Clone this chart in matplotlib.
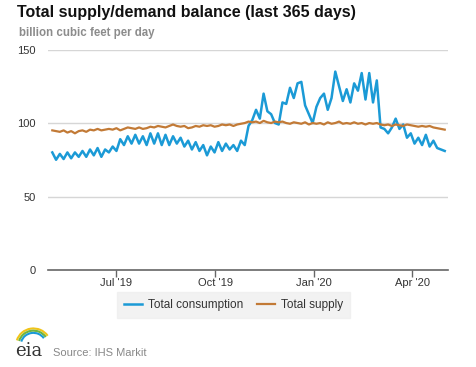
#use pandas and matplotlib packages
import pandas as pd
import matplotlib.pyplot as plt
from matplotlib.patches import Arc

plt.rcParams['font.family'] = ['Liberation Sans', 'DejaVu Sans']

#dates every 3.5 days over the last 365 days
dates = pd.date_range('2019-05-03', periods=105, freq='84h')

#total consumption, bcf/d
consumption = [80, 75, 79, 75.5, 80, 76, 80, 77, 81, 77,
               82, 78, 83, 77, 82, 80, 84, 81, 89, 85,
               91, 86, 92, 86, 91, 85, 93, 86, 93, 85,
               92, 85, 91, 86, 90, 84, 88, 82, 87, 81,
               85, 78, 84, 80, 87, 81, 86, 82, 85, 81,
               88, 85, 98, 102, 109, 103, 120, 108, 106, 100,
               99, 114, 113, 124, 117, 127, 128, 112, 106, 100,
               111, 117, 120, 109, 117, 135, 125, 115, 123, 114,
               127, 122, 134, 116, 134, 114, 129, 97, 96, 93,
               97, 103, 96, 99, 90, 93, 86, 90, 85, 92,
               84, 88, 83, 82, 81]

#total supply, bcf/d
supply = [95, 94.5, 94, 95, 93.5, 94.5, 93, 94.5, 95, 94,
          95.5, 95, 96, 95, 95.5, 96, 95.5, 96.5, 95, 96,
          97, 96.5, 96, 97, 96, 96.5, 97.5, 97, 98, 97.5,
          97, 98, 99, 98, 97.5, 98, 96.5, 97, 98, 97.5,
          98.5, 98, 98.5, 97.5, 98, 99, 98.5, 99, 98, 99,
          99.5, 100, 101, 100.5, 101, 100, 101.5, 100.5, 100, 101,
          100.5, 101, 100, 99.5, 100.5, 100, 99.5, 100.5, 99, 100,
          99.5, 100, 99, 100.5, 99.5, 100, 101, 99.5, 100, 99.5,
          100.5, 99.5, 100, 99, 100, 99.5, 100, 99, 98.5, 99,
          98, 99, 98.5, 98, 99, 98.5, 98, 97.5, 98, 97.5,
          98, 97, 96.5, 96, 95.5]

tick_dates = pd.to_datetime(['2019-07-01', '2019-10-01', '2020-01-01', '2020-04-01'])
tick_labels = ["Jul '19", "Oct '19", "Jan '20", "Apr '20"]

fig = plt.figure(figsize=(4.77, 3.67), dpi=100)
ax = fig.add_axes([0.1006, 0.2643, 0.8385, 0.6007])

ax.plot(dates, consumption, color='#1b9ad6', lw=1.8, label='Total consumption')
ax.plot(dates, supply, color='#c27a36', lw=1.6, label='Total supply')

ax.set_ylim(0, 150)
ax.set_xlim(pd.Timestamp('2019-04-29'), pd.Timestamp('2020-05-04'))
ax.set_yticks([0, 50, 100, 150])
ax.set_xticks(tick_dates)
ax.set_xticklabels(tick_labels)
for y in [50, 100, 150]:
    ax.axhline(y, color='#d6d6d6', lw=1, zorder=0)

for s in ['top', 'right', 'left']:
    ax.spines[s].set_visible(False)
ax.spines['bottom'].set_color('#666666')
ax.spines['bottom'].set_linewidth(1.2)
ax.tick_params(axis='y', length=0, pad=9, labelsize=8, labelcolor='#333333')
ax.tick_params(axis='x', length=5, width=1, color='#666666', direction='out',
               labelsize=8, labelcolor='#333333', pad=1)

#title and units
fig.text(0.035, 0.965, 'Total supply/demand balance (last 365 days)',
         fontsize=11.5, fontweight='bold', color='#111111', va='center')
fig.text(0.04, 0.91, 'billion cubic feet per day',
         fontsize=8.3, fontweight='bold', color='#8c8c8c', va='center')

leg = fig.legend(loc='center', bbox_to_anchor=(0.49, 0.168), ncol=2, fontsize=8.5,
                 frameon=True, fancybox=False, handlelength=1.5, columnspacing=1.2,
                 borderpad=0.6, handletextpad=0.5)
leg.get_frame().set_facecolor('#efefef')
leg.get_frame().set_edgecolor('#efefef')
for t in leg.get_texts():
    t.set_color('#333333')

#eia logo and source
fig.text(0.032, 0.03, 'eia', fontsize=13, family='DejaVu Serif', color='#333333')
for c, r in [('#f0c419', 0.030), ('#6fb43f', 0.026), ('#1b9ad6', 0.022)]:
    fig.add_artist(Arc((0.07, 0.06), r * 2.4, r * 3.0, theta1=40, theta2=160,
                       color=c, lw=1.5, transform=fig.transFigure))
fig.text(0.111, 0.03, 'Source: IHS Markit', fontsize=8, color='#888888')

plt.savefig('out.png', dpi=100)
